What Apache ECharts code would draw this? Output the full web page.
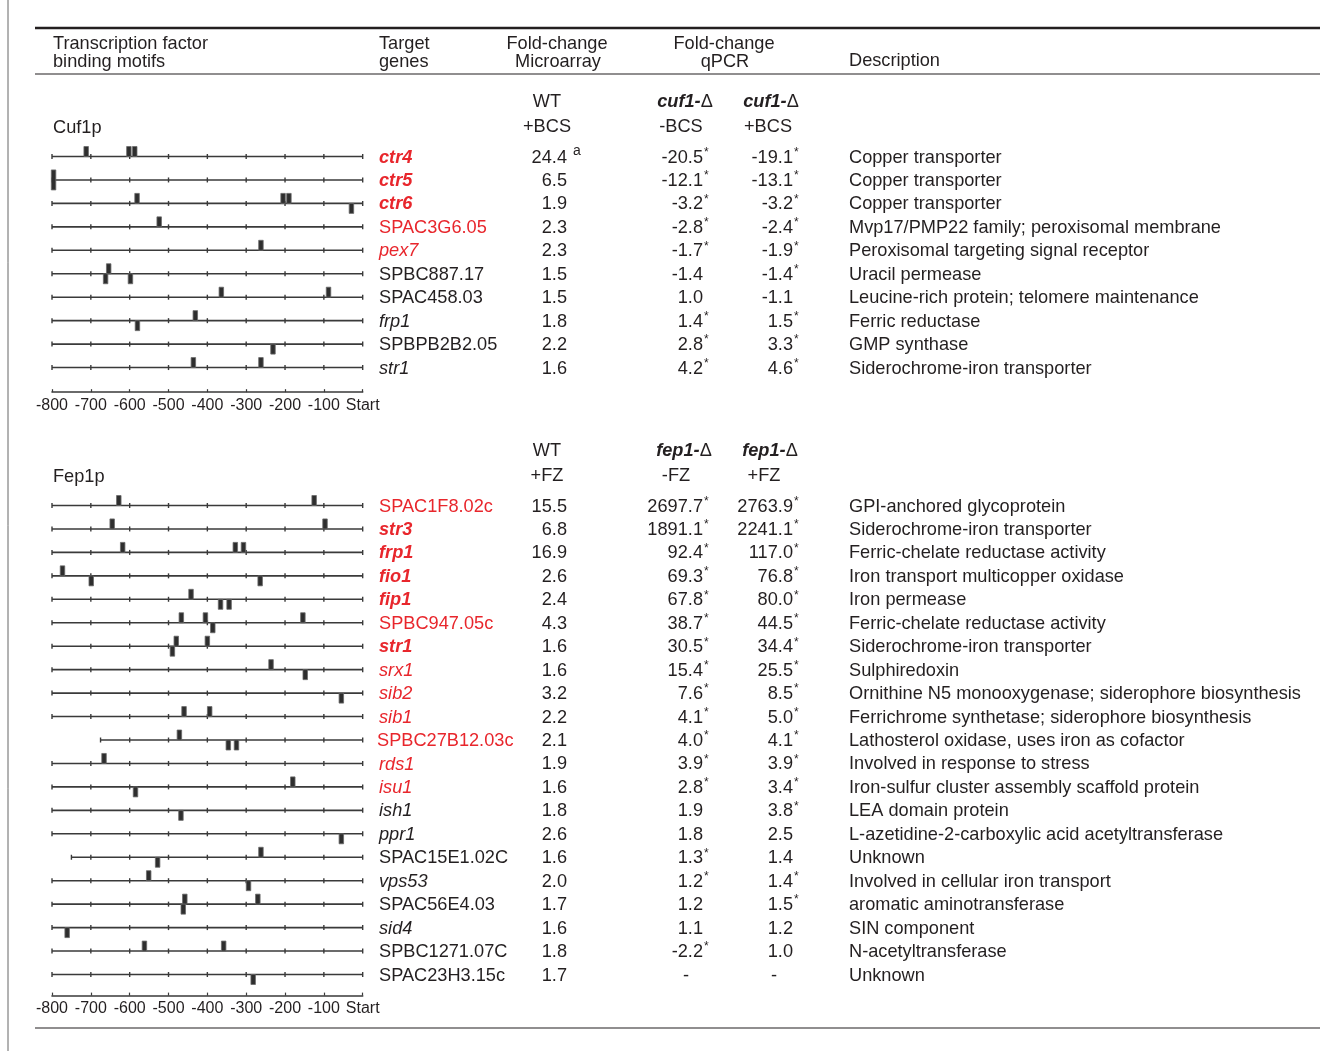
<!DOCTYPE html>
<html>
<head>
<meta charset="utf-8">
<script src="https://cdn.jsdelivr.net/npm/echarts@6/dist/echarts.min.js"></script>
<style>
  html, body { margin: 0; background: #fff; }
  #main { width: 1333px; height: 1051px; }
</style>
</head>
<body>
<div id="main"></div>
<script>
(function () {
  // ---- Cuf1p block data ----
  const cufGenes = ['ctr4', 'ctr5', 'ctr6', 'SPAC3G6.05', 'pex7', 'SPBC887.17', 'SPAC458.03', 'frp1', 'SPBPB2B2.05', 'str1'];
  const cufGeneStyle = ['bi', 'bi', 'bi', 'n', 'i', 'n', 'n', 'i', 'n', 'i'];
  const cufGeneRed = [1, 1, 1, 1, 1, 0, 0, 0, 0, 0];
  const cufWT = ['24.4', '6.5', '1.9', '2.3', '2.3', '1.5', '1.5', '1.8', '2.2', '1.6'];
  const cufWTNote = ['a', '', '', '', '', '', '', '', '', ''];
  const cufQ1 = ['-20.5*', '-12.1*', '-3.2*', '-2.8*', '-1.7*', '-1.4', '1.0', '1.4*', '2.8*', '4.2*'];
  const cufQ2 = ['-19.1*', '-13.1*', '-3.2*', '-2.4*', '-1.9*', '-1.4*', '-1.1', '1.5*', '3.3*', '4.6*'];
  const cufDesc = ['Copper transporter', 'Copper transporter', 'Copper transporter',
    'Mvp17/PMP22 family; peroxisomal membrane', 'Peroxisomal targeting signal receptor',
    'Uracil permease', 'Leucine-rich protein; telomere maintenance', 'Ferric reductase',
    'GMP synthase', 'Siderochrome-iron transporter'];
  const cufStart = [-800, -800, -800, -800, -800, -800, -800, -800, -800, -800];
  // [row, position (bp), strand: 1 above, -1 below, 0 both]
  const cufMotifs = [
    [0, -712, 1], [0, -602, 1], [0, -587, 1],
    [1, -796, 0],
    [2, -581, 1], [2, -205, 1], [2, -190, 1], [2, -29, -1],
    [3, -524, 1],
    [4, -262, 1],
    [5, -654, 1], [5, -662, -1], [5, -598, -1],
    [6, -364, 1], [6, -88, 1],
    [7, -431, 1], [7, -580, -1],
    [8, -231, -1],
    [9, -436, 1], [9, -262, 1]
  ];

  // ---- Fep1p block data ----
  const fepGenes = ['SPAC1F8.02c', 'str3', 'frp1', 'fio1', 'fip1', 'SPBC947.05c', 'str1', 'srx1', 'sib2', 'sib1',
    'SPBC27B12.03c', 'rds1', 'isu1', 'ish1', 'ppr1', 'SPAC15E1.02C', 'vps53', 'SPAC56E4.03', 'sid4',
    'SPBC1271.07C', 'SPAC23H3.15c'];
  const fepGeneStyle = ['n', 'bi', 'bi', 'bi', 'bi', 'n', 'bi', 'i', 'i', 'i',
    'n', 'i', 'i', 'i', 'i', 'n', 'i', 'n', 'i', 'n', 'n'];
  const fepGeneRed = [1, 1, 1, 1, 1, 1, 1, 1, 1, 1, 1, 1, 1, 0, 0, 0, 0, 0, 0, 0, 0];
  const fepWT = ['15.5', '6.8', '16.9', '2.6', '2.4', '4.3', '1.6', '1.6', '3.2', '2.2', '2.1', '1.9', '1.6',
    '1.8', '2.6', '1.6', '2.0', '1.7', '1.6', '1.8', '1.7'];
  const fepQ1 = ['2697.7*', '1891.1*', '92.4*', '69.3*', '67.8*', '38.7*', '30.5*', '15.4*', '7.6*', '4.1*',
    '4.0*', '3.9*', '2.8*', '1.9', '1.8', '1.3*', '1.2*', '1.2', '1.1', '-2.2*', '-'];
  const fepQ2 = ['2763.9*', '2241.1*', '117.0*', '76.8*', '80.0*', '44.5*', '34.4*', '25.5*', '8.5*', '5.0*',
    '4.1*', '3.9*', '3.4*', '3.8*', '2.5', '1.4', '1.4*', '1.5*', '1.2', '1.0', '-'];
  const fepDesc = ['GPI-anchored glycoprotein', 'Siderochrome-iron transporter', 'Ferric-chelate reductase activity',
    'Iron transport multicopper oxidase', 'Iron permease', 'Ferric-chelate reductase activity',
    'Siderochrome-iron transporter', 'Sulphiredoxin', 'Ornithine N5 monooxygenase; siderophore biosynthesis',
    'Ferrichrome synthetase; siderophore biosynthesis', 'Lathosterol oxidase, uses iron as cofactor',
    'Involved in response to stress', 'Iron-sulfur cluster assembly scaffold protein', 'LEA domain protein',
    'L-azetidine-2-carboxylic acid acetyltransferase', 'Unknown', 'Involved in cellular iron transport',
    'aromatic aminotransferase', 'SIN component', 'N-acetyltransferase', 'Unknown'];
  const fepStart = [-800, -800, -800, -800, -800, -800, -800, -800, -800, -800,
    -675, -800, -800, -800, -800, -750, -800, -800, -800, -800, -800];
  const fepMotifs = [
    [0, -628, 1], [0, -125, 1],
    [1, -645, 1], [1, -97, 1],
    [2, -618, 1], [2, -328, 1], [2, -307, 1],
    [3, -773, 1], [3, -699, -1], [3, -264, -1],
    [4, -442, 1], [4, -366, -1], [4, -344, -1],
    [5, -467, 1], [5, -405, 1], [5, -386, -1], [5, -154, 1],
    [6, -480, 1], [6, -490, -1], [6, -400, 1],
    [7, -236, 1], [7, -148, -1],
    [8, -55, -1],
    [9, -460, 1], [9, -394, 1],
    [10, -472, 1], [10, -346, -1], [10, -325, -1],
    [11, -666, 1],
    [12, -180, 1], [12, -585, -1],
    [13, -468, -1],
    [14, -55, -1],
    [15, -262, 1], [15, -528, -1],
    [16, -551, 1], [16, -294, -1],
    [17, -458, 1], [17, -462, -1], [17, -270, 1],
    [18, -761, -1],
    [19, -562, 1], [19, -358, 1],
    [20, -282, -1]
  ];

  const axisTicks = [-800, -700, -600, -500, -400, -300, -200, -100, 0];

  // ---- styling ----
  const FONT = '"Liberation Sans", Arial, Helvetica, sans-serif';
  const FS = 18.2;
  const INK = '#231f20';
  const RED = '#e8262c';
  const LINE = '#3a3a3a';

  const chart = echarts.init(document.getElementById('main'));

  function txt(text, x, y, align, opt) {
    opt = opt || {};
    return {
      type: 'text',
      style: Object.assign({
        text: text, x: x, y: y + 1,
        textAlign: align, align: align,
        textVerticalAlign: 'middle', verticalAlign: 'middle',
        fill: INK, fontSize: FS, fontFamily: FONT
      }, opt)
    };
  }

  // promoter lines with 100-bp ticks
  function promoterSeries(g, starts) {
    return {
      type: 'custom', xAxisIndex: g, yAxisIndex: g, clip: false, silent: true,
      data: starts.map((s, i) => [s, i]),
      renderItem: (params, api) => {
        const s = api.value(0), row = api.value(1);
        const p0 = api.coord([s, row]), p1 = api.coord([0, row]);
        const kids = [{ type: 'line', shape: { x1: p0[0], y1: p0[1], x2: p1[0], y2: p1[1] }, style: { stroke: LINE, lineWidth: 1.6 } }];
        const ticks = [s].concat(axisTicks.filter(t => t > s));
        ticks.forEach(t => {
          const p = api.coord([t, row]);
          kids.push({ type: 'line', shape: { x1: p[0], y1: p[1] - 2.5, x2: p[0], y2: p[1] + 2.5 }, style: { stroke: LINE, lineWidth: 1.4 } });
        });
        return { type: 'group', children: kids };
      }
    };
  }

  // binding motif boxes
  function motifSeries(g, motifs) {
    return {
      type: 'custom', xAxisIndex: g, yAxisIndex: g, clip: false, silent: true,
      data: motifs.map(m => [m[1], m[0], m[2]]),
      renderItem: (params, api) => {
        const p = api.coord([api.value(0), api.value(1)]);
        const strand = api.value(2);
        const w = 4.5, h = 10;
        let y0 = p[1] - h, hh = h;
        if (strand < 0) y0 = p[1];
        if (strand === 0) { y0 = p[1] - h; hh = 2 * h; }
        return {
          type: 'rect',
          shape: { x: p[0] - w / 2, y: y0, width: w, height: hh },
          style: { fill: '#2e2e2e', stroke: '#6a6a6a', lineWidth: 0.8 }
        };
      }
    };
  }

  // one column of row texts, drawn at each row's y
  function textSeries(g, n, makeEls) {
    return {
      type: 'custom', xAxisIndex: g, yAxisIndex: g, clip: false, silent: true,
      data: Array.from({ length: n }, (_, i) => [0, i]),
      renderItem: (params, api) => {
        const y = api.coord([0, api.value(1)])[1];
        return { type: 'group', children: makeEls(params.dataIndex, y) };
      }
    };
  }

  function geneCol(g, genes, styles, reds) {
    return textSeries(g, genes.length, (i, y) => {
      const st = styles[i];
      const x = genes[i].length > 12 ? 377 : 379;
      return [txt(genes[i], x, y, 'left', {
        fill: reds[i] ? RED : INK,
        fontStyle: st.indexOf('i') >= 0 ? 'italic' : 'normal',
        fontWeight: st.indexOf('b') >= 0 ? 'bold' : 'normal'
      })];
    });
  }

  function numCol(g, vals, xRight, dashX, notes) {
    return textSeries(g, vals.length, (i, y) => {
      const v = vals[i];
      if (v === '-') return [txt('-', dashX, y, 'center')];
      const star = v.endsWith('*');
      const main = star ? v.slice(0, -1) : v;
      const els = [txt(main, xRight, y, 'right')];
      if (star) els.push(txt('*', xRight + 1, y - 5, 'left', { fontSize: 12 }));
      if (notes && notes[i]) els.push(txt(notes[i], xRight + 6, y - 6, 'left', { fontSize: 14 }));
      return els;
    });
  }

  function descCol(g, desc) {
    return textSeries(g, desc.length, (i, y) => [txt(desc[i], 849, y, 'left')]);
  }

  // section headers drawn at fractional rows above row 0
  function headerSeries(g, label, cond, mut, c1, c2) {
    return {
      type: 'custom', xAxisIndex: g, yAxisIndex: g, clip: false, silent: true,
      data: [[0, 0]],
      renderItem: (params, api) => {
        const yA = api.coord([0, -2.35])[1];
        const yB = api.coord([0, -1.3])[1];
        const rich = { b: { fontStyle: 'italic', fontWeight: 'bold', fontSize: FS, fontFamily: FONT, fill: INK, color: INK },
                       n: { fontSize: FS, fontFamily: FONT, fill: INK, color: INK } };
        const mutText = '{b|' + mut + '-}{n|Δ}';
        return {
          type: 'group', children: [
            txt(label, 53, yB + 1, 'left'),
            txt('WT', 547, yA, 'center'),
            txt('+' + cond, 547, yB, 'center'),
            txt(mutText, c1[0], yA, 'center', { rich: rich }),
            txt('-' + cond, c1[1], yB, 'center'),
            txt(mutText, c2[0], yA, 'center', { rich: rich }),
            txt('+' + cond, c2[1], yB, 'center')
          ]
        };
      }
    };
  }

  const rowH = 23.45;
  const cufRow0 = 156.5, fepRow0 = 505.5;

  function xAx(g) {
    return {
      gridIndex: g, type: 'value', min: -800, max: 0, interval: 100,
      axisLine: { show: true, onZero: false, lineStyle: { color: LINE, width: 1.6 } },
      axisTick: { show: true, inside: true, length: 3, lineStyle: { color: LINE, width: 1.2 } },
      splitLine: { show: false },
      axisLabel: { color: INK, fontSize: 16, fontFamily: FONT, margin: 5,
        formatter: v => (v === 0 ? 'Start' : String(v)) }
    };
  }
  function yAx(g, max) {
    return { gridIndex: g, type: 'value', inverse: true, min: -1, max: max, show: false };
  }

  chart.setOption({
    backgroundColor: '#fff',
    animation: false,
    grid: [
      { left: 52, width: 310.7, top: cufRow0 - rowH, height: rowH * 11.05 },
      { left: 52, width: 310.7, top: fepRow0 - rowH, height: rowH * 21.9 }
    ],
    xAxis: [xAx(0), xAx(1)],
    yAxis: [yAx(0, 10.05), yAx(1, 20.9)],
    graphic: [
      { type: 'line', shape: { x1: 8, y1: 0, x2: 8, y2: 1051 }, style: { stroke: '#666', lineWidth: 1 } },
      { type: 'line', shape: { x1: 35, y1: 28, x2: 1320, y2: 28 }, style: { stroke: INK, lineWidth: 2.5 } },
      { type: 'line', shape: { x1: 35, y1: 74, x2: 1320, y2: 74 }, style: { stroke: INK, lineWidth: 1.2 } },
      { type: 'line', shape: { x1: 35, y1: 1028, x2: 1320, y2: 1028 }, style: { stroke: INK, lineWidth: 1.2 } },
      txt('Transcription factor', 53, 43, 'left'),
      txt('binding motifs', 53, 61, 'left'),
      txt('Target', 379, 43, 'left'),
      txt('genes', 379, 61, 'left'),
      txt('Fold-change', 557, 43, 'center'),
      txt('Microarray', 558, 61, 'center'),
      txt('Fold-change', 724, 43, 'center'),
      txt('qPCR', 725, 61, 'center'),
      txt('Description', 849, 60, 'left')
    ],
    series: [
      promoterSeries(0, cufStart),
      motifSeries(0, cufMotifs),
      geneCol(0, cufGenes, cufGeneStyle, cufGeneRed),
      numCol(0, cufWT, 567, 547, cufWTNote),
      numCol(0, cufQ1, 703, 686),
      numCol(0, cufQ2, 793, 774),
      descCol(0, cufDesc),
      headerSeries(0, 'Cuf1p', 'BCS', 'cuf1', [685, 681], [771, 768]),

      promoterSeries(1, fepStart),
      motifSeries(1, fepMotifs),
      geneCol(1, fepGenes, fepGeneStyle, fepGeneRed),
      numCol(1, fepWT, 567, 547),
      numCol(1, fepQ1, 703, 686),
      numCol(1, fepQ2, 793, 774),
      descCol(1, fepDesc),
      headerSeries(1, 'Fep1p', 'FZ', 'fep1', [684, 676], [770, 764])
    ]
  });
})();
</script>
</body>
</html>
